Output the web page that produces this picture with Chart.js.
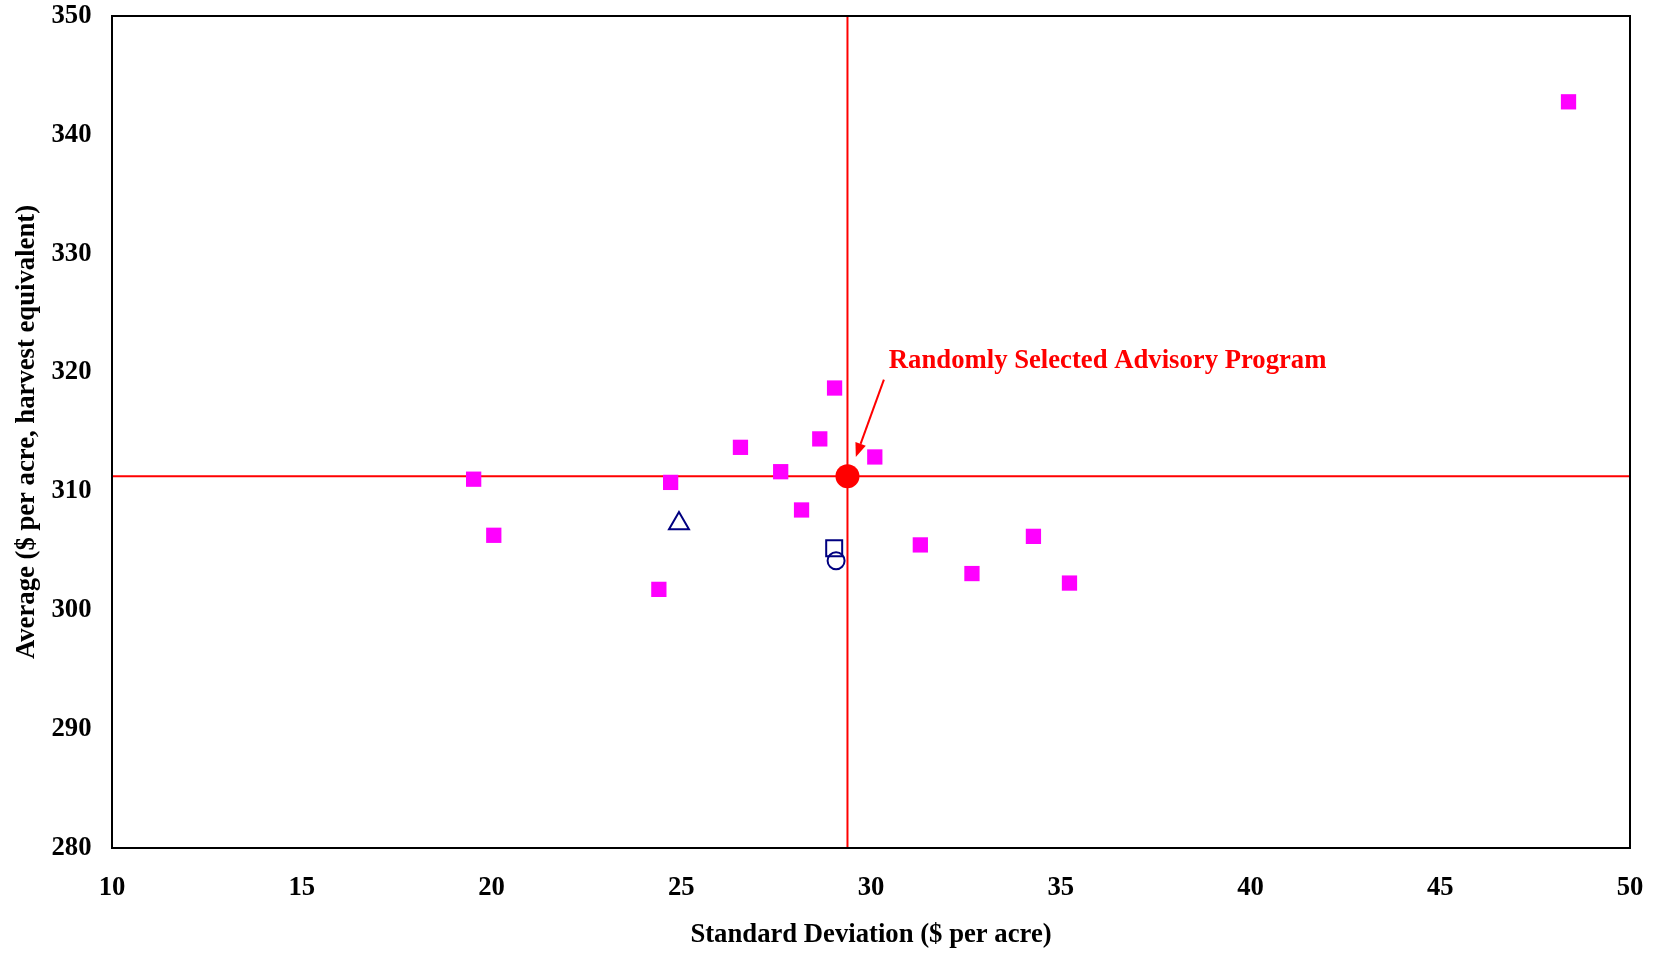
<!DOCTYPE html>
<html>
<head>
<meta charset="utf-8">
<script src="https://cdn.jsdelivr.net/npm/chart.js@4/dist/chart.umd.min.js"></script>
<style>
  html, body { margin: 0; padding: 0; background: #fff; }
  #wrap { width: 1658px; height: 953px; }
</style>
</head>
<body>
<div id="wrap"><canvas id="chart"></canvas></div>
<script>
// advisory programs (std dev, average)
const programSD  = [48.38, 19.53, 20.06, 24.41, 24.72, 26.56, 27.62, 28.17, 28.65, 29.04, 30.10, 31.30, 32.66, 34.28, 35.23];
const programAvg = [342.78, 311.03, 306.31, 301.76, 310.76, 313.71, 311.66, 308.44, 314.42, 318.70, 312.90, 305.50, 303.09, 306.22, 302.29];

// benchmarks
const triangleSD = [24.94], triangleAvg = [307.30];
const squareSD = [29.03], squareAvg = [305.22];
const circleSD = [29.08], circleAvg = [304.17];

// randomly selected program
const randomSD = 29.38, randomAvg = 311.28;

const xMin = 10, xMax = 50, xStep = 5;
const yMin = 280, yMax = 350, yStep = 10;

const noteText = 'Randomly Selected Advisory Program';
const notePos = [30.47, 321.0];
const arrowFrom = [30.34, 319.4];
const arrowTo = [29.60, 312.9];

const fnt = 'Liberation Serif, Times New Roman, serif';
const pts = (xs, ys) => xs.map((x, i) => ({ x, y: ys[i] }));

const kader = {
    id: 'kader',
    afterDatasetsDraw(chart) {
        const { ctx, chartArea: a, scales: { x, y } } = chart;
        ctx.save();
        // arrow
        const x1 = x.getPixelForValue(arrowFrom[0]), y1 = y.getPixelForValue(arrowFrom[1]);
        const x2 = x.getPixelForValue(arrowTo[0]), y2 = y.getPixelForValue(arrowTo[1]);
        const hoek = Math.atan2(y2 - y1, x2 - x1);
        const len = 14, br = 5.5;
        ctx.strokeStyle = '#ff0000'; ctx.fillStyle = '#ff0000'; ctx.lineWidth = 2;
        ctx.beginPath();
        ctx.moveTo(x1, y1);
        ctx.lineTo(x2 - Math.cos(hoek) * len, y2 - Math.sin(hoek) * len);
        ctx.stroke();
        ctx.beginPath();
        ctx.moveTo(x2, y2);
        ctx.lineTo(x2 - Math.cos(hoek) * len + Math.sin(hoek) * br, y2 - Math.sin(hoek) * len - Math.cos(hoek) * br);
        ctx.lineTo(x2 - Math.cos(hoek) * len - Math.sin(hoek) * br, y2 - Math.sin(hoek) * len + Math.cos(hoek) * br);
        ctx.closePath();
        ctx.fill();
        // note
        ctx.font = `bold 26.7px ${fnt}`;
        ctx.textAlign = 'left'; ctx.textBaseline = 'middle';
        ctx.fillText(noteText, x.getPixelForValue(notePos[0]), y.getPixelForValue(notePos[1]));
        // frame
        ctx.strokeStyle = '#000'; ctx.lineWidth = 2;
        ctx.strokeRect(a.left, a.top, a.right - a.left, a.bottom - a.top);
        ctx.restore();
    }
};

new Chart(document.getElementById('chart'), {
    type: 'scatter',
    data: {
        datasets: [
            { label: 'Random', data: [{ x: randomSD, y: randomAvg }], pointStyle: 'circle', pointRadius: 12,
              backgroundColor: '#ff0000', borderColor: '#ff0000', borderWidth: 0, order: 1 },
            { label: 'Programs', data: pts(programSD, programAvg), pointStyle: 'rect', pointRadius: 10.8,
              backgroundColor: '#ff00ff', borderColor: '#ff00ff', borderWidth: 0, order: 2 },
            { label: 'Triangle', data: pts(triangleSD, triangleAvg), pointStyle: 'triangle', pointRadius: 11.5,
              backgroundColor: 'rgba(0,0,0,0)', borderColor: '#000080', borderWidth: 2, order: 2 },
            { label: 'Square', data: pts(squareSD, squareAvg), pointStyle: 'rect', pointRadius: 11.3,
              backgroundColor: 'rgba(0,0,0,0)', borderColor: '#000080', borderWidth: 2, order: 2 },
            { label: 'Circle', data: pts(circleSD, circleAvg), pointStyle: 'circle', pointRadius: 8.5,
              backgroundColor: 'rgba(0,0,0,0)', borderColor: '#000080', borderWidth: 2, order: 2 },
            { type: 'line', label: 'vlijn', data: [{ x: randomSD, y: yMin }, { x: randomSD, y: yMax }],
              borderColor: '#ff0000', borderWidth: 2, pointRadius: 0, order: 10 },
            { type: 'line', label: 'hlijn', data: [{ x: xMin, y: randomAvg }, { x: xMax, y: randomAvg }],
              borderColor: '#ff0000', borderWidth: 2, pointRadius: 0, order: 10 }
        ]
    },
    options: {
        responsive: true,
        maintainAspectRatio: false,
        animation: false,
        events: [],
        layout: { padding: { left: 0, right: 28, top: 16, bottom: 0 } },
        plugins: { legend: { display: false }, tooltip: { enabled: false } },
        scales: {
            x: {
                type: 'linear', min: xMin, max: xMax,
                grid: { display: false }, border: { display: false },
                ticks: { stepSize: xStep, color: '#000', padding: 16.5, font: { family: fnt, size: 26.7, weight: 'bold' } },
                title: { display: true, text: 'Standard Deviation ($ per acre)', color: '#000',
                         padding: { top: 0, bottom: 2 }, font: { family: fnt, size: 26.7, weight: 'bold' } },
                afterFit: s => { s.height = 105; s.paddingLeft = 0; s.paddingRight = 0; }
            },
            y: {
                type: 'linear', min: yMin, max: yMax,
                grid: { display: false }, border: { display: false },
                ticks: { stepSize: yStep, color: '#000', padding: 12.5, font: { family: fnt, size: 26.7, weight: 'bold' } },
                title: { display: true, text: 'Average ($ per acre, harvest equivalent)', color: '#000',
                         padding: { top: 11, bottom: 0 }, font: { family: fnt, size: 26.7, weight: 'bold' } },
                afterFit: s => { s.width = 112; s.paddingTop = 0; s.paddingBottom = 0; }
            }
        }
    },
    plugins: [kader]
});
</script>
</body>
</html>
